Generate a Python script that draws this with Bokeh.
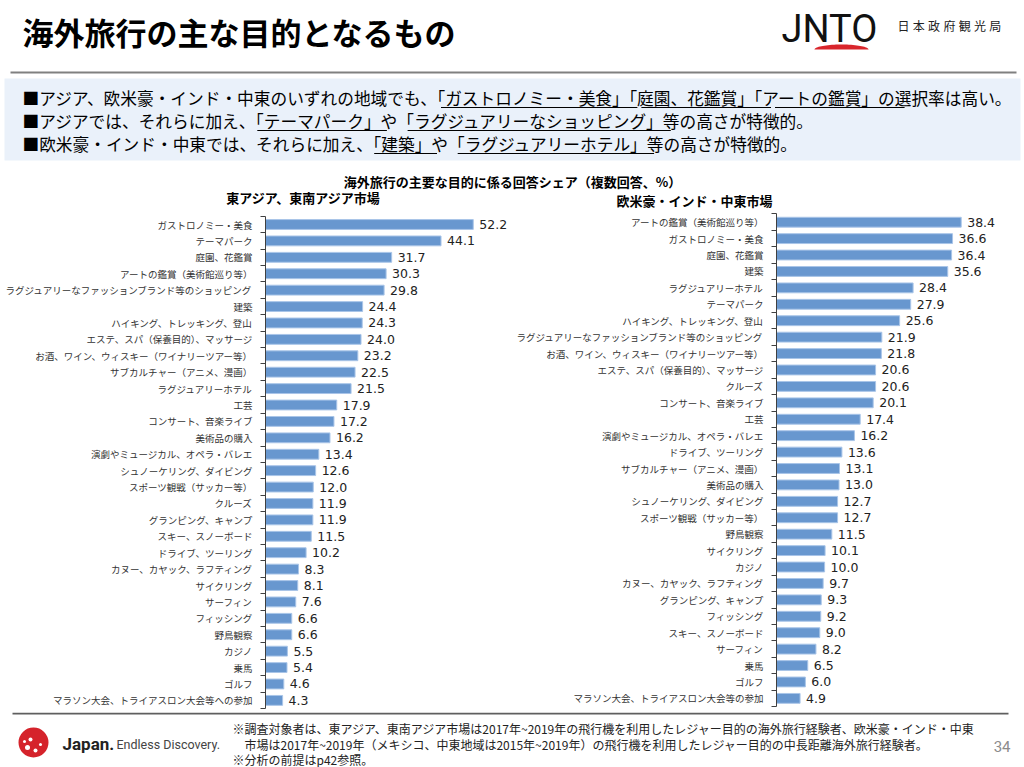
from bokeh.plotting import figure
from bokeh.layouts import column, row
from bokeh.models import Range1d, FixedTicker, ColumnDataSource
from bokeh.core.properties import value
from bokeh.embed import file_html
from bokeh.resources import INLINE
import numpy as np

JP = "Noto Sans CJK JP"

# ---- data -----------------------------------------------------------------
asia_labels = [
    "ガストロノミー・美食", "テーマパーク", "庭園、花鑑賞", "アートの鑑賞（美術館巡り等）",
    "ラグジュアリーなファッションブランド等のショッピング", "建築", "ハイキング、トレッキング、登山",
    "エステ、スパ（保養目的）、マッサージ", "お酒、ワイン、ウィスキー（ワイナリーツアー等）",
    "サブカルチャー（アニメ、漫画）", "ラグジュアリーホテル", "工芸", "コンサート、音楽ライブ",
    "美術品の購入", "演劇やミュージカル、オペラ・バレエ", "シュノーケリング、ダイビング",
    "スポーツ観戦（サッカー等）", "クルーズ", "グランピング、キャンプ", "スキー、スノーボード",
    "ドライブ、ツーリング", "カヌー、カヤック、ラフティング", "サイクリング", "サーフィン",
    "フィッシング", "野鳥観察", "カジノ", "乗馬", "ゴルフ", "マラソン大会、トライアスロン大会等への参加",
]
asia_values = [52.2, 44.1, 31.7, 30.3, 29.8, 24.4, 24.3, 24.0, 23.2, 22.5, 21.5, 17.9, 17.2, 16.2,
               13.4, 12.6, 12.0, 11.9, 11.9, 11.5, 10.2, 8.3, 8.1, 7.6, 6.6, 6.6, 5.5, 5.4, 4.6, 4.3]

west_labels = [
    "アートの鑑賞（美術館巡り等）", "ガストロノミー・美食", "庭園、花鑑賞", "建築", "ラグジュアリーホテル",
    "テーマパーク", "ハイキング、トレッキング、登山", "ラグジュアリーなファッションブランド等のショッピング",
    "お酒、ワイン、ウィスキー（ワイナリーツアー等）", "エステ、スパ（保養目的）、マッサージ", "クルーズ",
    "コンサート、音楽ライブ", "工芸", "演劇やミュージカル、オペラ・バレエ", "ドライブ、ツーリング",
    "サブカルチャー（アニメ、漫画）", "美術品の購入", "シュノーケリング、ダイビング", "スポーツ観戦（サッカー等）",
    "野鳥観察", "サイクリング", "カジノ", "カヌー、カヤック、ラフティング", "グランピング、キャンプ",
    "フィッシング", "スキー、スノーボード", "サーフィン", "乗馬", "ゴルフ", "マラソン大会、トライアスロン大会等の参加",
]
west_values = [38.4, 36.6, 36.4, 35.6, 28.4, 27.9, 25.6, 21.9, 21.8, 20.6, 20.6, 20.1, 17.4, 16.2,
               13.6, 13.1, 13.0, 12.7, 12.7, 11.5, 10.1, 10.0, 9.7, 9.3, 9.2, 9.0, 8.2, 6.5, 6.0, 4.9]

page_title = "海外旅行の主な目的となるもの"
bullets = [
    "■アジア、欧米豪・インド・中東のいずれの地域でも、「ガストロノミー・美食」「庭園、花鑑賞」「アートの鑑賞」の選択率は高い。",
    "■アジアでは、それらに加え、「テーマパーク」や「ラグジュアリーなショッピング」等の高さが特徴的。",
    "■欧米豪・インド・中東では、それらに加え、「建築」や「ラグジュアリーホテル」等の高さが特徴的。",
]
chart_title = "海外旅行の主要な目的に係る回答シェア（複数回答、%）"
asia_title = "東アジア、東南アジア市場"
west_title = "欧米豪・インド・中東市場"
notes = [
    "※調査対象者は、東アジア、東南アジア市場は2017年~2019年の飛行機を利用したレジャー目的の海外旅行経験者、欧米豪・インド・中東",
    "市場は2017年~2019年（メキシコ、中東地域は2015年~2019年）の飛行機を利用したレジャー目的の中長距離海外旅行経験者。",
    "※分析の前提はp42参照。",
]
agency = "日本政府観光局"
page_no = "34"

BAR = "#6897cf"
BAR_EDGE = "#a9c5e8"
AXIS = "#404040"
HEAD_H = 212
PANEL_H = 712 - HEAD_H


def canvas(w, h, y_top, y_bottom):
    p = figure(width=w, height=h, x_range=Range1d(0, w), y_range=Range1d(y_bottom, y_top),
               x_axis_location=None, y_axis_location=None, output_backend="svg",
               toolbar_location=None, min_border=0, outline_line_color=None)
    p.grid.visible = False
    return p


# ---- header ---------------------------------------------------------------
head = canvas(1024, HEAD_H, 0, HEAD_H)
head.text(x=[22], y=[31], text=[page_title], text_font=value(JP), text_font_style="bold",
          text_font_size="31px", text_baseline="middle", text_color="#000000")

# JNTO mark
head.text(x=[781], y=[28], text=["JNTO"], text_font=value("Roboto"), text_font_size="38px",
          text_baseline="middle", text_color="#111111")
th = np.linspace(0, np.pi, 40)
head.patch(841 + 27 * np.cos(th), 49 - 5 * np.sin(th), color="#d9262c", line_color=None)
head.text(x=[897 + 15.3 * i for i in range(len(agency))], y=[25] * len(agency), text=list(agency),
          text_font=value(JP), text_font_size="12px", text_baseline="middle", text_color="#222222")

head.line([10, 1016], [72, 72], line_color="#808080", line_width=2)
head.quad(left=4, right=1020, top=78, bottom=160, fill_color="#eaf1fa", line_color=None)

fs = 16.7
for k, line_txt in enumerate(bullets):
    yk = 97 + 23 * k
    head.text(x=[22], y=[yk], text=[line_txt], text_font=value(JP), text_font_size=f"{fs}px",
              text_baseline="middle", text_color="#000000")
    # underline every bracketed phrase
    start = None
    for i, ch in enumerate(line_txt):
        if ch == "「":
            start = i
        elif ch == "」" and start is not None:
            head.line([22 + start * fs + 1, 22 + (i + 1) * fs - 3], [yk + 10, yk + 10],
                      line_color="#000000", line_width=1)
            start = None

head.text(x=[512], y=[181], text=[chart_title], text_font=value(JP), text_font_style="bold",
          text_font_size="13px", text_align="center", text_baseline="middle", text_color="#000000")
head.text(x=[303, 694], y=[197, 200], text=[asia_title, west_title], text_font=value(JP),
          text_font_style="bold", text_font_size="13px", text_align="center",
          text_baseline="middle", text_color="#000000")


# ---- bar panels -------------------------------------------------------------
def bar_panel(labels, values, border_left, px_per_unit, first_row, row_px):
    n = len(labels)
    h = PANEL_H
    frame_w = 512 - border_left
    p = figure(width=512, height=h,
               x_range=Range1d(0, frame_w / px_per_unit),
               y_range=Range1d(start=(h - first_row) / row_px, end=-first_row / row_px),
               x_axis_location=None, y_axis_location="left", output_backend="svg",
               toolbar_location=None, min_border_left=border_left, min_border_right=0,
               min_border_top=0, min_border_bottom=0, outline_line_color=None)
    p.grid.visible = False
    src = ColumnDataSource(dict(idx=list(range(n)), val=values, lbl=[f"{v:.1f}" for v in values]))
    p.hbar(y="idx", left=0, right="val", height=0.6, source=src,
           fill_color=BAR, line_color=BAR_EDGE, line_width=1)
    p.text(x="val", y="idx", text="lbl", source=src, x_offset=6, text_baseline="middle",
           text_font=value("DejaVu Sans"), text_font_size="12.5px", text_color="#222222")
    ax = p.yaxis[0]
    ax.ticker = FixedTicker(ticks=list(range(n)), minor_ticks=[i - 0.5 for i in range(n + 1)])
    ax.major_label_overrides = {i: lab for i, lab in enumerate(labels)}
    ax.bounds = (-0.5, n - 0.5)
    ax.major_tick_out = 0
    ax.major_tick_in = 0
    ax.minor_tick_out = 5
    ax.minor_tick_in = 0
    ax.minor_tick_line_color = AXIS
    ax.axis_line_color = AXIS
    ax.major_label_text_font = JP
    ax.major_label_text_font_size = "9.5px"
    ax.major_label_text_color = "#333333"
    ax.major_label_standoff = 8
    return p


left = bar_panel(asia_labels, asia_values, 265, 3.98, 224 - HEAD_H, 16.41)
right = bar_panel(west_labels, west_values, 264, 4.81, 221.7 - HEAD_H, 16.42)

# ---- footer -----------------------------------------------------------------
foot = canvas(1024, 55, 712, 767)
foot.line([12, 1008], [713, 713], line_color="#5f5f5f", line_width=2)
foot.circle(x=[33], y=[742], radius=15, fill_color="#d5232b", line_color=None)
foot.scatter(x=[27, 35, 30, 40, 24], y=[747, 750, 739, 744, 741], size=[5, 4, 4, 3, 3],
             marker="circle", fill_color="#ffffff", line_color=None)
foot.text(x=[62], y=[743], text=["Japan."], text_font=value("Roboto"), text_font_style="bold",
          text_font_size="17px", text_baseline="middle", text_color="#222222")
foot.text(x=[116], y=[744], text=["Endless Discovery."], text_font=value("Roboto"),
          text_font_size="12.5px", text_baseline="middle", text_color="#444444")
foot.text(x=[232, 244, 232], y=[728, 744, 759], text=notes, text_font=value(JP),
          text_font_size="12px", text_baseline="middle", text_color="#222222")
foot.text(x=[1010], y=[746], text=[page_no], text_font=value("Roboto"), text_font_size="15px",
          text_align="right", text_baseline="middle", text_color="#8c8c8c")

page = column(head, row(left, right), foot)

with open("out.html", "w") as f:
    f.write(file_html(page, INLINE))
